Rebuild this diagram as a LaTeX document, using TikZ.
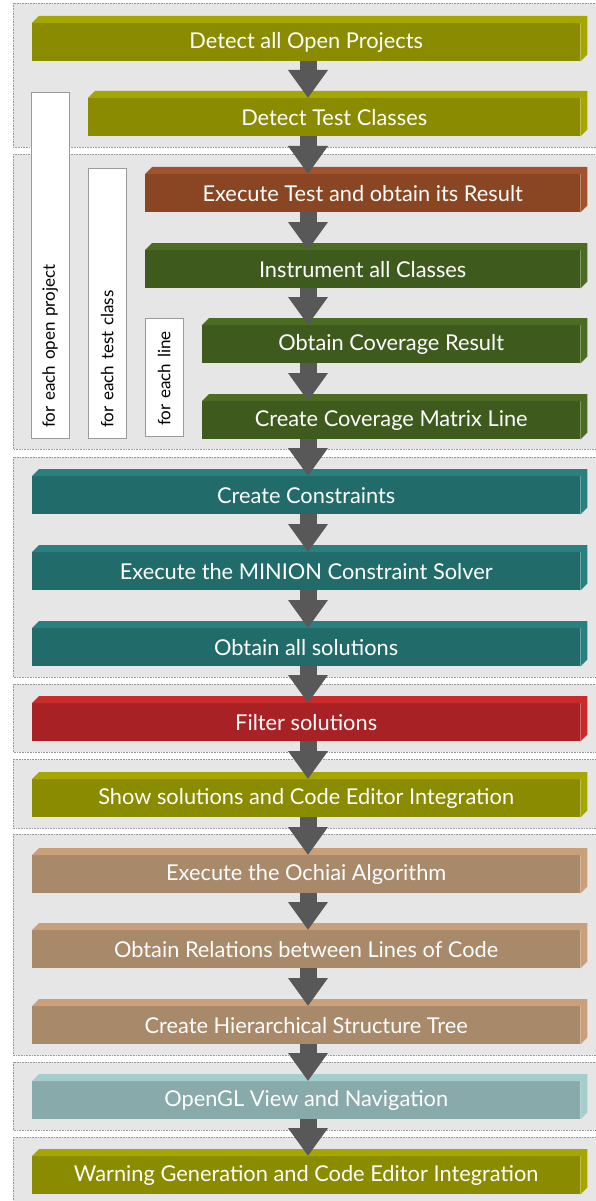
\documentclass[tikz,border=0pt]{standalone}
\usepackage{fontspec}
\setmainfont{Lato}
\usetikzlibrary{arrows.meta,positioning,calc}

\definecolor{bggray}{HTML}{E6E6E6}
\definecolor{edgegray}{HTML}{9A9A9A}
\definecolor{arrowgray}{HTML}{585858}
\definecolor{olivefront}{HTML}{8B8B00}
\definecolor{olivetop}{HTML}{A6A600}
\definecolor{brownfront}{HTML}{8A4522}
\definecolor{browntop}{HTML}{A2532D}
\definecolor{greenfront}{HTML}{3F5A1D}
\definecolor{greentop}{HTML}{4C6B23}
\definecolor{tealfront}{HTML}{216B6B}
\definecolor{tealtop}{HTML}{2A807E}
\definecolor{redfront}{HTML}{A82125}
\definecolor{redtop}{HTML}{CB2A2C}
\definecolor{tanfront}{HTML}{A8896A}
\definecolor{tantop}{HTML}{C9A07A}
\definecolor{mistfront}{HTML}{88AAAA}
\definecolor{misttop}{HTML}{A4CDCD}

\begin{document}
\begin{tikzpicture}[x=1pt, y=-1pt,
	group/.style={fill=bggray, draw=edgegray, densely dotted, line width=0.6pt},
	stage/.style={anchor=north west, inner sep=0pt, minimum height=38pt,
		text=white, font=\fontsize{21.8}{26}\selectfont},
	loopbox/.style={rotate=90, anchor=north west, draw=edgegray, fill=white,
		minimum height=38pt, inner xsep=10pt, inner ysep=0pt, align=left,
		font=\fontsize{17}{20}\selectfont},
	flow/.style={draw=arrowgray, line width=17pt, -{Triangle[width=38pt,length=28pt]}}
]
	\useasboundingbox (0,0) rectangle (595,1201);

	% Phase backgrounds
	\path[group] (13,3)    rectangle (600,147);
	\path[group] (13,154)  rectangle (600,449);
	\path[group] (13,457)  rectangle (600,677);
	\path[group] (13,684)  rectangle (600,752);
	\path[group] (13,759)  rectangle (600,828);
	\path[group] (13,834)  rectangle (600,1055);
	\path[group] (13,1062) rectangle (600,1130);
	\path[group] (13,1137) rectangle (600,1210);

	% Loop markers
	\node[loopbox, text width=326pt] (perproject) at (31,438) {for each open project};
	\node[loopbox, text width=250pt] (perclass)   at (88,438) {for each test class};
	\node[loopbox, text width=98pt]  (perline)    at (145,436) {for each line};

	% Coverage collection
	\node[stage, fill=olivefront, minimum width=548pt] (detect)     at (32,23)  {Detect all Open Projects};
	\node[stage, fill=olivefront, minimum width=492pt] (classes)    at (88,98)  {Detect Test Classes};
	\node[stage, fill=brownfront, minimum width=435pt] (exectest)   at (145,174) {Execute Test and obtain its Result};
	\node[stage, fill=greenfront, minimum width=435pt] (instrument) at (145,250) {Instrument all Classes};
	\node[stage, fill=greenfront, minimum width=378pt] (coverage)   at (202,325) {Obtain Coverage Result};
	\node[stage, fill=greenfront, minimum width=378pt] (matrix)     at (202,401) {Create Coverage Matrix Line};

	% Constraint solving
	\node[stage, fill=tealfront, minimum width=548pt] (constraints) at (32,476) {Create Constraints};
	\node[stage, fill=tealfront, minimum width=548pt] (minion)      at (32,552) {Execute the MINION Constraint Solver};
	\node[stage, fill=tealfront, minimum width=548pt] (solutions)   at (32,628) {Obtain all solutions};
	\node[stage, fill=redfront,  minimum width=548pt] (filter)      at (32,703) {Filter solutions};
	\node[stage, fill=olivefront, minimum width=548pt] (show)       at (32,779) {Show solutions and Code Editor Integration};

	% Ochiai and visualisation
	\node[stage, fill=tanfront, minimum width=548pt] (ochiai)    at (32,855)  {Execute the Ochiai Algorithm};
	\node[stage, fill=tanfront, minimum width=548pt] (relations) at (32,930)  {Obtain Relations between Lines of Code};
	\node[stage, fill=tanfront, minimum width=548pt] (tree)      at (32,1006) {Create Hierarchical Structure Tree};
	\node[stage, fill=mistfront, minimum width=548pt] (opengl)   at (32,1081) {OpenGL View and Navigation};
	\node[stage, fill=olivefront, minimum width=548pt] (warning) at (32,1156) {Warning Generation and Code Editor Integration};

	% top and right faces
	\foreach \n/\c in {detect/olivetop, classes/olivetop, exectest/browntop,
		instrument/greentop, coverage/greentop, matrix/greentop,
		constraints/tealtop, minion/tealtop, solutions/tealtop, filter/redtop,
		show/olivetop, ochiai/tantop, relations/tantop, tree/tantop,
		opengl/misttop, warning/olivetop}
		\fill[\c] (\n.north west) -- ++(7,-7) -- ($(\n.north east)+(7,-7)$)
			-- ($(\n.south east)+(7,-7)$) -- (\n.south east) -- (\n.north east) -- cycle;

	% Flow arrows
	\coordinate (axis) at (308,0);
	\foreach \a/\b in {detect/classes, classes/exectest, exectest/instrument,
		instrument/coverage, coverage/matrix, matrix/constraints,
		constraints/minion, minion/solutions, solutions/filter, filter/show,
		show/ochiai, ochiai/relations, relations/tree, tree/opengl, opengl/warning}
		\draw[flow] (\a.south -| axis) -- (\b.north -| axis);
\end{tikzpicture}
\end{document}
